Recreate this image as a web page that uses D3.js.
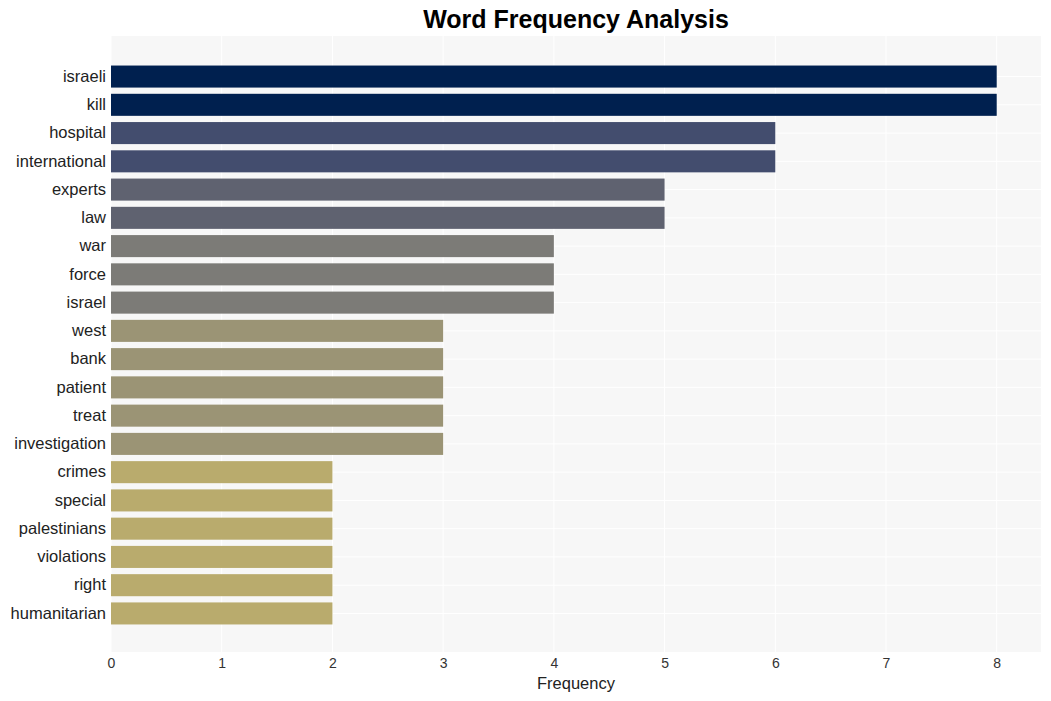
<!DOCTYPE html>
<html><head><meta charset="utf-8">
<script src="https://cdn.jsdelivr.net/npm/d3@7"></script>
<style>body{margin:0;background:#fff;} text{font-family:"Liberation Sans",Arial,sans-serif;}</style>
</head><body><svg id="c" width="1051" height="701"></svg>
<script>
const words = ["israeli","kill","hospital","international","experts","law","war","force","israel","west","bank","patient","treat","investigation","crimes","special","palestinians","violations","right","humanitarian"];
const counts = [8,8,6,6,5,5,4,4,4,3,3,3,3,3,2,2,2,2,2,2];
const xTicks = [0,1,2,3,4,5,6,7,8];
const colorByCount = {8:"#00204f",6:"#434d6e",5:"#5f6270",4:"#7c7b77",3:"#9b9475",2:"#b9ab6d"};

const svg = d3.select("#c");
const L=111, R=1041, T=36, B=652;
const x = d3.scaleLinear().domain([0,8.4]).range([L,R]);
const y = d3.scaleBand().domain(words).range([T+1,B+1]).paddingInner(0.22).paddingOuter(1.01);

svg.append("rect").attr("x",L).attr("y",T).attr("width",R-L).attr("height",B-T).attr("fill","#f7f7f7");
svg.append("g").selectAll("line").data(xTicks).join("line")
  .attr("x1",d=>x(d)).attr("x2",d=>x(d)).attr("y1",T).attr("y2",B)
  .attr("stroke","#ffffff").attr("stroke-width",1);
svg.append("g").selectAll("line").data(words).join("line")
  .attr("x1",L).attr("x2",R).attr("y1",d=>y(d)+y.bandwidth()/2).attr("y2",d=>y(d)+y.bandwidth()/2)
  .attr("stroke","#ffffff").attr("stroke-width",1);

svg.append("g").selectAll("rect").data(words).join("rect")
  .attr("x",x(0)).attr("y",d=>y(d)).attr("height",y.bandwidth())
  .attr("width",(d,i)=>x(counts[i])-x(0))
  .attr("fill",(d,i)=>colorByCount[counts[i]]);

const yAxis = svg.append("g").attr("transform",`translate(${L},0)`)
  .call(d3.axisLeft(y).tickSize(0).tickPadding(5));
yAxis.select(".domain").remove();
yAxis.selectAll("text").attr("font-size","16.5px").attr("fill","#222").style("font-family","'Liberation Sans',Arial,sans-serif");

const xAxis = svg.append("g").attr("transform",`translate(0,${B})`)
  .call(d3.axisBottom(x).tickValues(xTicks).tickFormat(d3.format("d")).tickSize(0).tickPadding(6));
xAxis.select(".domain").remove();
xAxis.selectAll("text").attr("font-size","14px").attr("fill","#333").style("font-family","'Liberation Sans',Arial,sans-serif");

svg.append("text").attr("x",(L+R)/2).attr("y",689).attr("text-anchor","middle")
  .attr("font-size","16.5px").attr("fill","#222").text("Frequency");
svg.append("text").attr("x",(L+R)/2).attr("y",28).attr("text-anchor","middle")
  .attr("font-size","25px").attr("font-weight","bold").attr("fill","#000").text("Word Frequency Analysis");
</script></body></html>
